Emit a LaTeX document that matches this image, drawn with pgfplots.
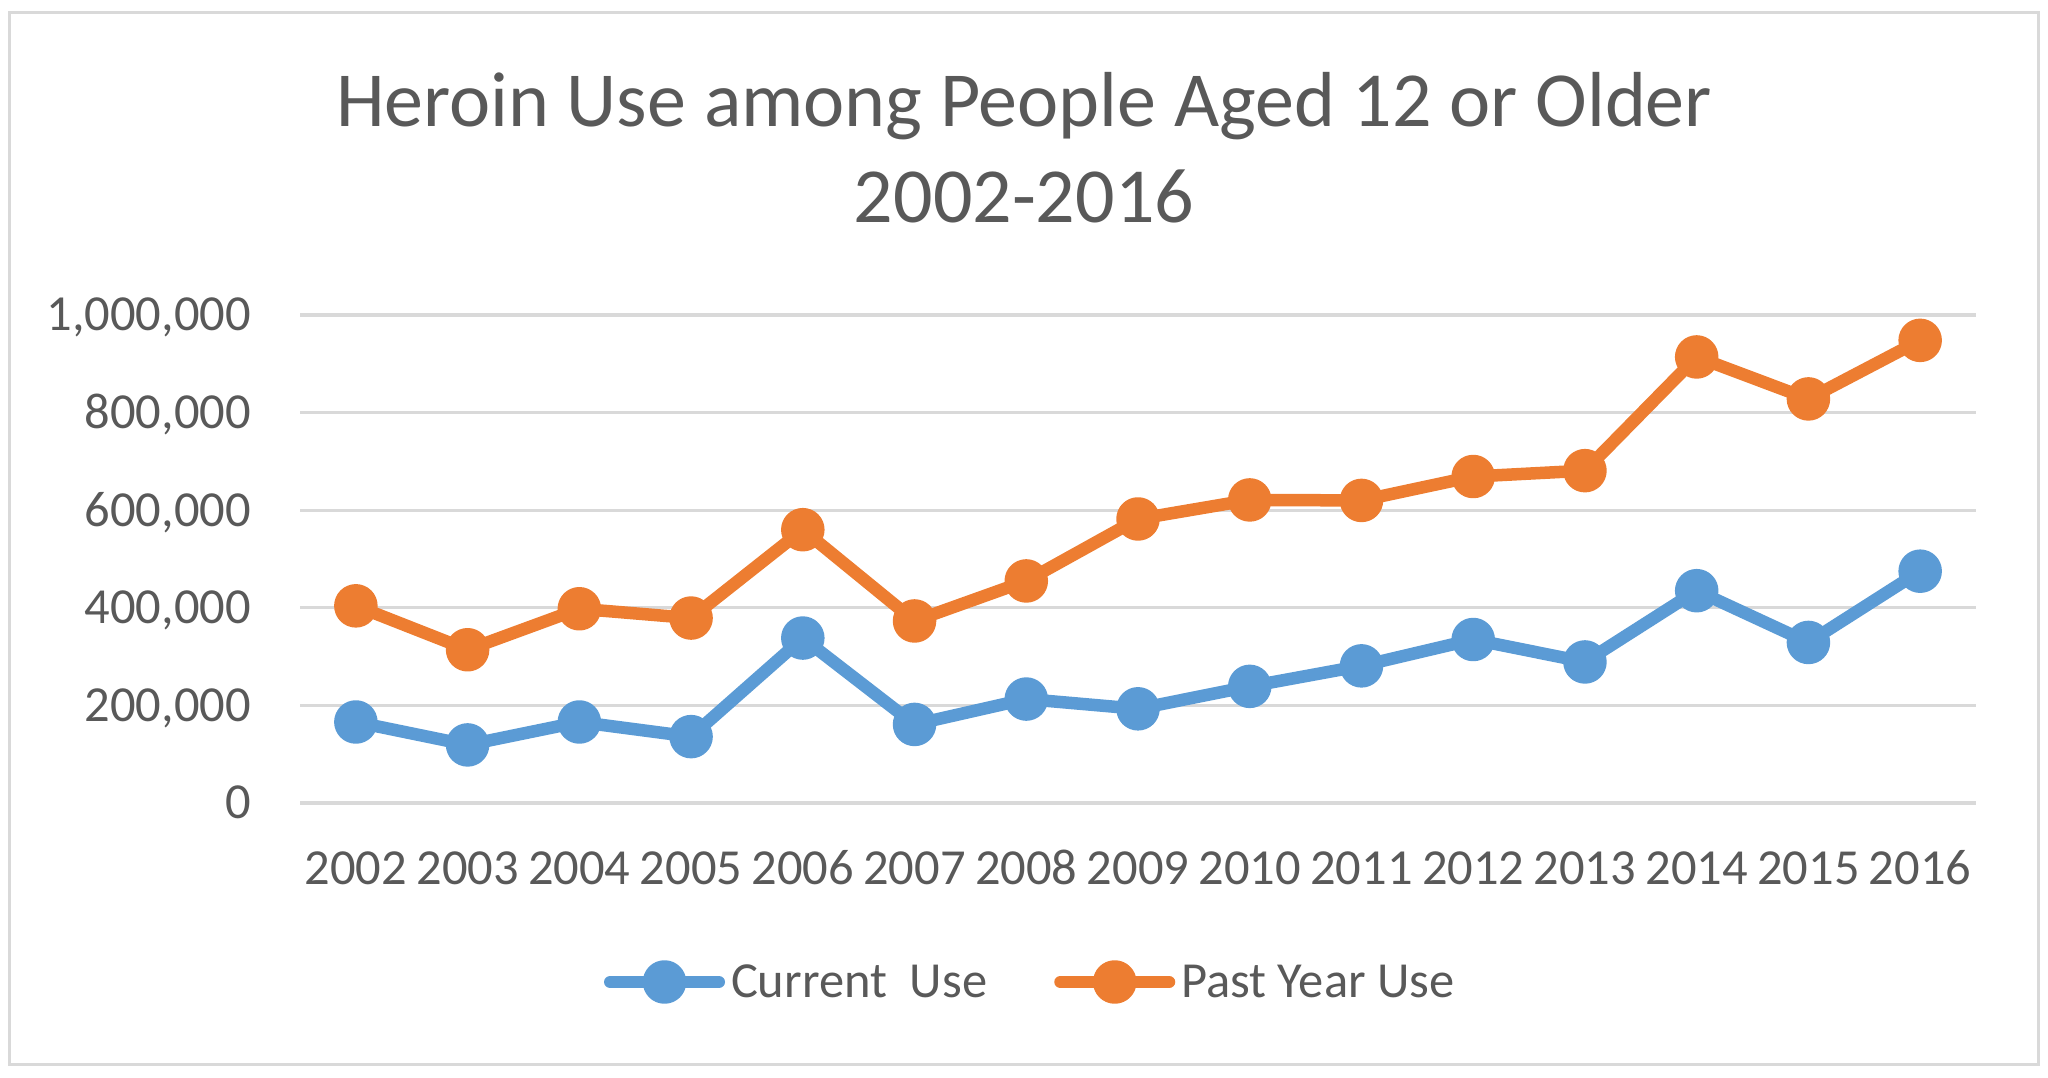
\documentclass[border=0pt]{standalone}
\usepackage{fontspec}
\setmainfont{Carlito}
\usepackage{pgfplots}
\pgfplotsset{compat=1.18}
\definecolor{cblue}{HTML}{5B9BD5}
\definecolor{corange}{HTML}{ED7D31}
\definecolor{ctext}{HTML}{595959}
\definecolor{cgrid}{HTML}{D9D9D9}
\begin{document}
\begin{tikzpicture}[x=1bp,y=1bp]
\useasboundingbox (0,0) rectangle (2048,1077);
\draw[cgrid, line width=3bp] (9,13) rectangle (2038,1064);
\node[font=\fontsize{78bp}{94bp}\selectfont, text=ctext, anchor=base, inner sep=0pt] at (1024,950) {Heroin Use among People Aged 12 or Older};
\node[font=\fontsize{78bp}{94bp}\selectfont, text=ctext, anchor=base, inner sep=0pt] at (1024,854) {2002-2016};
\begin{axis}[
  at={(300bp,274bp)}, anchor=south west,
  scale only axis, width=1676bp, height=488bp,
  xmin=2001.5, xmax=2016.5, ymin=0, ymax=1000000,
  xtick={2002,2003,...,2016}, ytick={0,200000,400000,600000,800000,1000000},
  ymajorgrids, major grid style={cgrid, line width=3.3bp},
  axis line style={draw=none}, major tick length=0pt, tick style={draw=none},
  clip=false, scaled y ticks=false, scaled x ticks=false,
  ticklabel style={font=\fontsize{50.5bp}{60bp}\selectfont, text=ctext, inner sep=0pt},
  yticklabel style={anchor=base east, xshift=-49bp, yshift=-16bp,
     /pgf/number format/.cd, fixed, 1000 sep={,}, assume math mode=true},
  xticklabel style={anchor=base, yshift=-82bp,
     /pgf/number format/.cd, 1000 sep={}, assume math mode=true},
  legend style={at={(axis description cs:0.1814,-0.3668)}, anchor=west,
     draw=none, fill=none, inner sep=0pt, outer sep=0pt, legend columns=2,
     font=\fontsize{50.5bp}{60bp}\selectfont, text=ctext,
     nodes={inner sep=0pt},
     /tikz/every odd column/.append style={column sep=6bp},
     /tikz/every even column/.append style={column sep=67bp}},
]
\addplot[cblue, line width=12.5bp, line join=round, mark=*, mark size=15.5bp,
  mark options={draw=none, fill=cblue},
  legend image code/.code={\draw[cblue, line width=12.5bp, line cap=round] (6.25bp,0bp) -- (114.75bp,0bp); \fill[cblue] (60.5bp,0bp) circle (15.5bp);}]
coordinates {(2002,166000) (2003,119000) (2004,166000) (2005,136000) (2006,338000) (2007,161000) (2008,213000) (2009,193000) (2010,239000) (2011,281000) (2012,335000) (2013,289000) (2014,435000) (2015,329000) (2016,475000)};
\addlegendentry{Current\ \ Use}
\addplot[corange, line width=12.5bp, line join=round, mark=*, mark size=15.5bp,
  mark options={draw=none, fill=corange},
  legend image code/.code={\draw[corange, line width=12.5bp, line cap=round] (6.25bp,0bp) -- (114.75bp,0bp); \fill[corange] (60.5bp,0bp) circle (15.5bp);}]
coordinates {(2002,404000) (2003,314000) (2004,398000) (2005,379000) (2006,560000) (2007,373000) (2008,455000) (2009,582000) (2010,621000) (2011,620000) (2012,669000) (2013,681000) (2014,914000) (2015,828000) (2016,948000)};
\addlegendentry{Past Year Use}
\end{axis}
\end{tikzpicture}
\end{document}
